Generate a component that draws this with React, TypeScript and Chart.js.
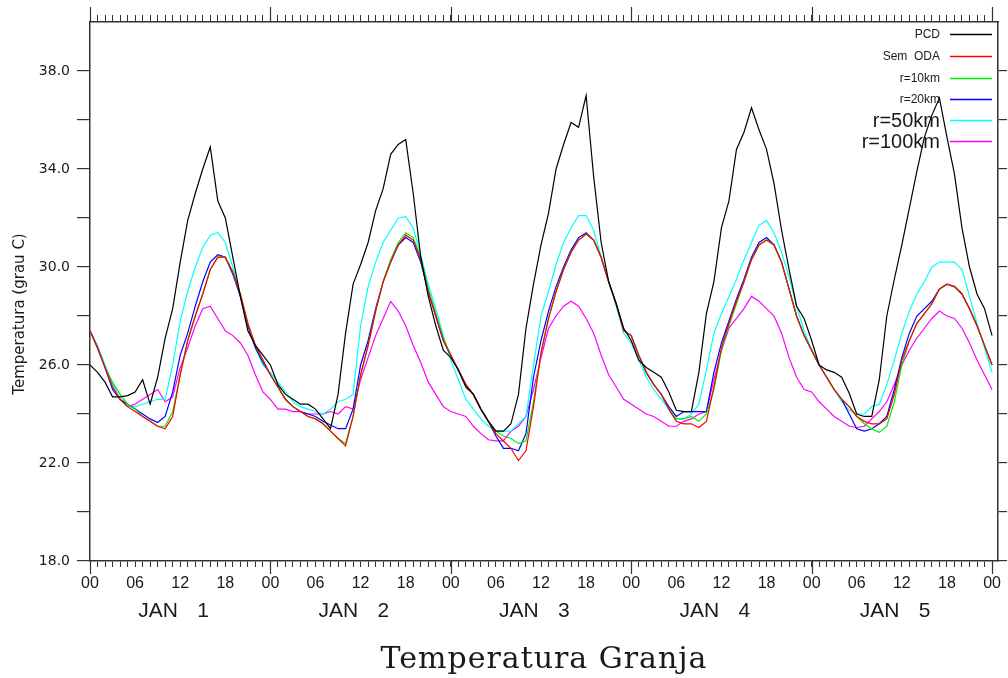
import React, { useEffect, useRef } from 'react';
import { Chart, registerables } from 'chart.js';

Chart.register(...registerables);

// ---- data (hourly, 00 JAN 1 .. 00 JAN 6) ----
const HOURS: number[] = Array.from({ length: 121 }, (_, i) => i);
const DAY_STARTS = [0, 24, 48, 72, 96, 120];
const DAY_NAMES = ['1', '2', '3', '4', '5'];
const MONTH = 'JAN';
const Y_TICKS = [18, 20, 22, 24, 26, 28, 30, 32, 34, 36, 38];
const Y_LABELED = [18, 22, 26, 30, 34, 38];

const pcd = [
  26.0, 25.7, 25.3, 24.7, 24.7, 24.75, 24.9, 25.4, 24.4, 25.5, 27.1, 28.3, 30.2, 31.9, 33.0, 34.0, 34.9, 32.7, 32.0, 30.4, 28.8, 27.4, 26.8, 26.4,
  26.0, 25.2, 24.8, 24.6, 24.4, 24.4, 24.2, 23.8, 23.4, 24.8, 27.3, 29.3, 30.1, 31.0, 32.3, 33.2, 34.6, 35.0, 35.2, 33.0, 30.4, 28.8, 27.6, 26.6,
  26.3, 25.8, 25.1, 24.8, 24.2, 23.7, 23.3, 23.3, 23.6, 24.8, 27.5, 29.3, 30.9, 32.2, 34.0, 35.0, 35.9, 35.7, 37.0, 33.7, 31.0, 29.4, 28.5, 27.5,
  27.0, 26.2, 25.9, 25.7, 25.5, 24.9, 24.15, 24.1, 24.1, 25.7, 28.1, 29.4, 31.6, 32.7, 34.8, 35.5, 36.5, 35.6, 34.8, 33.4, 31.5, 29.9, 28.4, 27.9,
  27.0, 26.0, 25.8, 25.7, 25.5, 24.85, 24.0, 23.9, 23.9, 25.4, 28.0, 29.5, 30.9, 32.4, 33.9, 35.3, 36.2, 36.9, 35.3, 33.8, 31.6, 30.0, 28.9, 28.3, 27.2,
];

const semOda = [
  27.4, 26.7, 25.9, 25.1, 24.6, 24.3, 24.1, 23.9, 23.7, 23.5, 23.4, 23.9, 25.6, 27.0, 28.0, 28.9, 29.9, 30.4, 30.4, 29.8, 28.9, 27.7, 26.8, 26.2,
  25.6, 25.1, 24.6, 24.3, 24.1, 23.9, 23.8, 23.6, 23.3, 23.0, 22.7, 23.9, 25.6, 26.8, 28.2, 29.4, 30.2, 30.9, 31.3, 31.1, 30.3, 29.0, 28.0, 27.0,
  26.4, 25.8, 25.2, 24.8, 24.2, 23.7, 23.2, 22.9, 22.6, 22.1, 22.5, 24.3, 26.5, 27.9, 29.0, 29.9, 30.6, 31.1, 31.35, 31.1, 30.4, 29.4, 28.5, 27.4,
  27.2, 26.4, 25.7, 25.2, 24.8, 24.2, 23.7, 23.6, 23.6, 23.45, 23.7, 25.1, 26.7, 27.7, 28.6, 29.4, 30.3, 30.9, 31.1, 30.9, 30.2, 29.1, 28.0, 27.2,
  26.6, 26.0, 25.5, 25.0, 24.6, 24.3, 23.9, 23.7, 23.6, 23.6, 23.8, 24.8, 26.2, 27.0, 27.7, 28.1, 28.5, 29.1, 29.3, 29.2, 28.9, 28.3, 27.6, 26.8, 26.0,
];

const r10 = [
  27.4, 26.7, 25.9, 25.3, 24.8, 24.4, 24.2, 23.9, 23.7, 23.5, 23.5, 24.1, 25.6, 27.0, 28.0, 28.9, 29.9, 30.4, 30.4, 29.8, 28.9, 27.7, 26.8, 26.2,
  25.6, 25.1, 24.6, 24.3, 24.1, 23.9, 23.8, 23.6, 23.3, 23.0, 22.8, 23.9, 25.6, 26.8, 28.2, 29.4, 30.3, 31.0, 31.4, 31.2, 30.4, 29.1, 28.1, 27.1,
  26.4, 25.8, 25.2, 24.8, 24.2, 23.7, 23.3, 23.1, 23.0, 22.8, 22.9, 24.5, 26.5, 27.9, 29.0, 29.9, 30.6, 31.1, 31.35, 31.1, 30.4, 29.4, 28.5, 27.4,
  27.2, 26.4, 25.7, 25.2, 24.8, 24.2, 23.8, 23.8, 23.9, 23.7, 24.0, 25.0, 26.6, 27.6, 28.5, 29.4, 30.3, 30.9, 31.1, 30.9, 30.2, 29.1, 28.0, 27.2,
  26.6, 26.0, 25.5, 25.0, 24.6, 24.3, 23.9, 23.6, 23.4, 23.25, 23.5, 24.5, 26.0, 27.0, 27.7, 28.1, 28.5, 29.1, 29.3, 29.2, 28.9, 28.3, 27.6, 26.8, 26.0,
];

const r20 = [
  27.4, 26.7, 25.9, 25.0, 24.6, 24.4, 24.2, 24.0, 23.8, 23.65, 23.9, 24.9, 26.4, 27.3, 28.4, 29.4, 30.2, 30.5, 30.4, 29.7, 28.8, 27.6, 26.7, 26.1,
  25.6, 25.1, 24.6, 24.3, 24.1, 24.0, 23.9, 23.7, 23.55, 23.4, 23.4, 24.2, 26.0, 27.0, 28.3, 29.4, 30.2, 30.9, 31.2, 31.0, 30.2, 29.0, 28.0, 27.0,
  26.4, 25.8, 25.2, 24.8, 24.2, 23.7, 23.1, 22.6, 22.6, 22.5, 23.2, 25.5, 27.0, 28.2, 29.2, 30.0, 30.7, 31.2, 31.4, 31.1, 30.4, 29.4, 28.5, 27.4,
  27.2, 26.4, 25.7, 25.2, 24.8, 24.3, 23.9, 24.1, 24.1, 24.1, 24.1, 25.7, 26.9, 27.8, 28.7, 29.5, 30.4, 31.0, 31.2, 30.9, 30.2, 29.1, 28.0, 27.2,
  26.6, 26.0, 25.5, 25.0, 24.6, 24.0, 23.4, 23.3, 23.4, 23.6, 23.9, 25.0, 26.3, 27.3, 28.0, 28.3, 28.6, 29.1, 29.3, 29.2, 28.9, 28.3, 27.6, 26.8, 26.0,
];

const r50 = [
  27.4, 26.8, 26.0, 25.2, 24.6, 24.3, 24.3, 24.4, 24.5, 24.6, 24.6, 26.0, 27.8, 29.0, 30.0, 30.8, 31.3, 31.4, 31.0, 30.0, 28.8, 27.6, 26.7, 26.0,
  25.7, 25.3, 24.9, 24.5, 24.3, 24.2, 24.1, 24.0, 24.2, 24.5, 24.6, 24.8, 27.6, 29.2, 30.2, 31.0, 31.5, 32.0, 32.05, 31.6, 30.5, 29.3, 28.3, 27.2,
  26.2, 25.4, 24.6, 24.2, 23.8, 23.5, 23.3, 23.3, 23.3, 23.6, 23.9, 26.0, 28.0, 29.0, 30.1, 31.0, 31.6, 32.1, 32.1, 31.5, 30.4, 29.4, 28.4, 27.3,
  26.9, 26.2, 25.5, 25.0, 24.6, 24.2, 23.8, 23.8, 24.0, 24.4, 25.8, 27.3, 28.1, 28.8, 29.5, 30.3, 31.0, 31.7, 31.9, 31.4, 30.6, 29.6, 28.4, 27.4,
  26.6, 26.0, 25.5, 25.0, 24.5, 24.15, 24.0, 24.0, 24.3, 24.4, 25.2, 26.2, 27.3, 28.2, 28.9, 29.4, 30.0, 30.2, 30.2, 30.2, 29.9, 28.8, 27.7, 26.7, 25.7,
];

const r100 = [
  27.4, 26.7, 25.9, 25.2, 24.6, 24.3, 24.4, 24.6, 24.8, 25.0, 24.5, 24.7, 25.9, 26.7, 27.6, 28.3, 28.4, 27.9, 27.4, 27.2, 26.9, 26.4, 25.6, 24.9,
  24.6, 24.2, 24.2, 24.1, 24.1, 24.0, 24.0, 24.0, 24.1, 24.0, 24.3, 24.2, 25.4, 26.3, 27.2, 27.9, 28.6, 28.2, 27.6, 26.8, 26.1, 25.3, 24.8, 24.3,
  24.1, 24.0, 23.9, 23.5, 23.2, 22.95, 22.9, 22.9, 23.3, 23.5, 23.9, 25.0, 26.3, 27.5, 28.0, 28.4, 28.6, 28.4, 27.9, 27.3, 26.4, 25.6, 25.1, 24.6,
  24.4, 24.2, 24.0, 23.9, 23.7, 23.5, 23.5, 23.7, 23.8, 24.0, 24.1, 25.4, 26.6, 27.5, 27.9, 28.3, 28.8, 28.6, 28.3, 28.0, 27.3, 26.3, 25.5, 25.0,
  24.9, 24.5, 24.2, 23.9, 23.7, 23.5, 23.45, 23.5, 23.8, 24.1, 24.5, 25.2, 26.0, 26.6, 27.1, 27.5, 27.9, 28.2, 28.0, 27.9, 27.5, 26.9, 26.2, 25.6, 25.0,
];

const SERIES_NAMES = ['PCD', 'Sem  ODA', 'r=10km', 'r=20km', 'r=50km', 'r=100km'];
const SERIES_COLORS = ['#000000', '#ff0000', '#00ee00', '#0000ff', '#00ffff', '#ff00ff'];
const LEGEND_FONT_SIZES = [12, 12, 12, 12, 20, 20];
const SERIES_VALUES = [pcd, semOda, r10, r20, r50, r100];

const TITLE = 'Temperatura Granja';
const Y_TITLE = 'Temperatura (grau C)';

const AXIS = '#333333';
const TEXT = '#1a1a1a';

const decor = {
  id: 'decor',
  afterDraw(chart: any) {
    const ctx = chart.ctx as CanvasRenderingContext2D;
    const xs = chart.scales.x;
    const area = chart.chartArea;
    ctx.save();
    // major day ticks
    ctx.strokeStyle = AXIS;
    ctx.lineWidth = 1.2;
    DAY_STARTS.forEach((h) => {
      const px = Math.round(xs.getPixelForValue(h)) + 0.5;
      ctx.beginPath();
      ctx.moveTo(px, area.bottom);
      ctx.lineTo(px, area.bottom + 13);
      ctx.moveTo(px, area.top);
      ctx.lineTo(px, area.top - 15);
      ctx.stroke();
    });
    // day labels
    ctx.fillStyle = TEXT;
    ctx.font = '21px "Liberation Sans", Arial, sans-serif';
    ctx.textBaseline = 'alphabetic';
    ctx.textAlign = 'left';
    DAY_NAMES.forEach((d, i) => {
      const px = xs.getPixelForValue(DAY_STARTS[i] + 12);
      ctx.fillText(MONTH, px - 42, 617);
      ctx.fillText(d, px + 17, 617);
    });
    // legend
    const rowY = [34, 56, 78, 99, 120, 141];
    SERIES_NAMES.forEach((name, i) => {
      const fs = LEGEND_FONT_SIZES[i];
      ctx.font = `${fs}px "Liberation Sans", Arial, sans-serif`;
      ctx.textAlign = 'right';
      ctx.fillStyle = TEXT;
      ctx.fillText(name, 940, rowY[i] + fs * 0.36);
      ctx.strokeStyle = SERIES_COLORS[i];
      ctx.lineWidth = 1.5;
      ctx.beginPath();
      ctx.moveTo(950, rowY[i] + 0.5);
      ctx.lineTo(992, rowY[i] + 0.5);
      ctx.stroke();
    });
    // y title
    ctx.save();
    ctx.translate(20, 314);
    ctx.rotate(-Math.PI / 2);
    ctx.font = '15px "DejaVu Sans", sans-serif';
    ctx.textAlign = 'center';
    ctx.textBaseline = 'middle';
    ctx.fillStyle = TEXT;
    ctx.fillText(Y_TITLE, 0, 0);
    ctx.restore();
    // main title
    ctx.font = '30px "DejaVu Serif", serif';
    (ctx as any).letterSpacing = '1px';
    ctx.textAlign = 'center';
    ctx.fillStyle = TEXT;
    ctx.fillText(TITLE, (area.left + area.right) / 2, 668);
    ctx.restore();
  },
};

export default function App() {
  const ref = useRef<HTMLCanvasElement>(null);
  useEffect(() => {
    const pad2 = (n: number) => (n < 10 ? '0' + n : String(n));
    const xTicks = (s: any) => {
      s.ticks = HOURS.map((v) => ({ value: v }));
    };
    const yTicks = (s: any) => {
      s.ticks = Y_TICKS.map((v) => ({ value: v }));
    };
    const chart = new Chart(ref.current as HTMLCanvasElement, {
      type: 'line',
      data: {
        datasets: SERIES_VALUES.map((vals, i) => ({
          label: SERIES_NAMES[i],
          data: HOURS.map((h, j) => ({ x: h, y: vals[j] })),
          borderColor: SERIES_COLORS[i],
          backgroundColor: SERIES_COLORS[i],
          borderWidth: 1.2,
          pointRadius: 0,
          tension: 0,
          fill: false,
        })),
      },
      options: {
        animation: false,
        responsive: true,
        maintainAspectRatio: false,
        devicePixelRatio: 1,
        layout: { padding: { left: 0, top: 0, right: 0, bottom: 77 } },
        plugins: {
          legend: { display: false },
          title: { display: false },
          tooltip: { enabled: false },
        },
        scales: {
          x: {
            type: 'linear',
            position: 'bottom',
            min: 0,
            max: 120.8,
            afterBuildTicks: xTicks,
            afterFit: (s: any) => {
              s.height = 40;
            },
            ticks: {
              autoSkip: false,
              maxRotation: 0,
              padding: 7,
              color: TEXT,
              font: { family: '"Liberation Sans", Arial, sans-serif', size: 16 },
              callback: (v: any) => {
                const n = Number(v);
                return n % 6 === 0 ? pad2(n % 24) : '';
              },
            },
            grid: { drawOnChartArea: false, drawTicks: true, tickLength: 6, color: AXIS, lineWidth: 1 },
            border: { display: true, color: AXIS, width: 1.5 },
          },
          x2: {
            type: 'linear',
            position: 'top',
            min: 0,
            max: 120.8,
            afterBuildTicks: xTicks,
            afterFit: (s: any) => {
              s.height = 22;
            },
            ticks: { display: false },
            grid: { drawOnChartArea: false, drawTicks: true, tickLength: 7, color: AXIS, lineWidth: 1 },
            border: { display: true, color: AXIS, width: 1.5 },
          },
          y: {
            type: 'linear',
            position: 'left',
            min: 18,
            max: 40,
            afterBuildTicks: yTicks,
            afterFit: (s: any) => {
              s.width = 90;
            },
            ticks: {
              padding: 7,
              color: TEXT,
              font: { family: '"DejaVu Sans", sans-serif', size: 14 },
              callback: (v: any) => {
                const n = Number(v);
                return Y_LABELED.includes(n) ? n.toFixed(1) : '';
              },
            },
            grid: { drawOnChartArea: false, drawTicks: true, tickLength: 13, color: AXIS, lineWidth: 1.2 },
            border: { display: true, color: AXIS, width: 1.5 },
          },
          y2: {
            type: 'linear',
            position: 'right',
            min: 18,
            max: 40,
            afterBuildTicks: yTicks,
            afterFit: (s: any) => {
              s.width = 9;
            },
            ticks: { display: false },
            grid: { drawOnChartArea: false, drawTicks: true, tickLength: 9, color: AXIS, lineWidth: 1.2 },
            border: { display: true, color: AXIS, width: 1.5 },
          },
        },
      } as any,
      plugins: [decor],
    });
    return () => chart.destroy();
  }, []);
  return (
    <div style={{ position: 'fixed', left: 0, top: 0, width: 1008, height: 678, background: '#ffffff' }}>
      <canvas ref={ref} />
    </div>
  );
}
